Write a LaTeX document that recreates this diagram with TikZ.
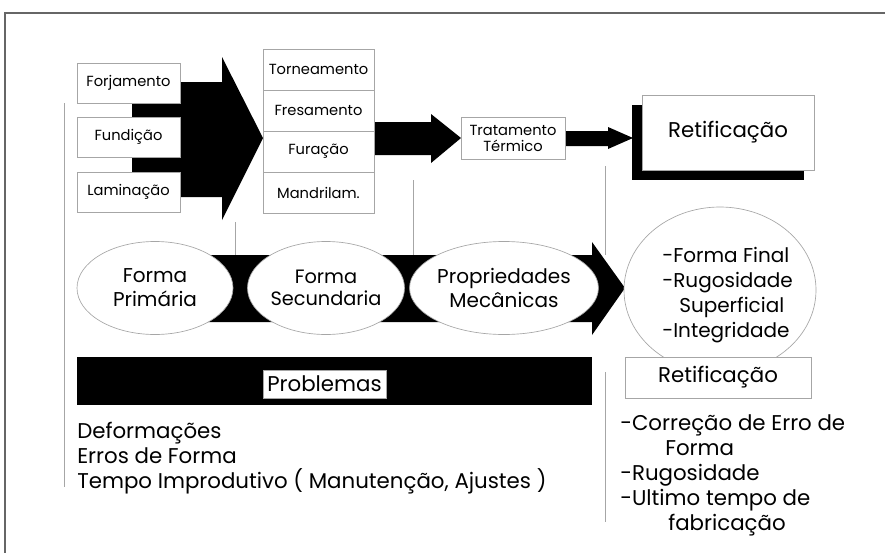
\documentclass[tikz,border=0pt]{standalone}
\usepackage{fontspec}
\setmainfont{Poppins}
\usetikzlibrary{positioning,shapes.geometric,shadows}

\tikzset{
  caixa/.style={draw=gray!70, fill=white, line width=0.5pt, inner sep=0pt, outer sep=0pt,
    minimum width=77.25pt, minimum height=30pt, font=\fontsize{11}{12}\selectfont},
  celula/.style={caixa, minimum width=83.25pt, minimum height=30.75pt},
  oval/.style={ellipse, draw=gray!70, fill=white, line width=0.5pt, inner sep=0pt,
    minimum width=117pt, minimum height=69.75pt, align=center, font=\fontsize{15}{18}\selectfont},
  fina/.style={gray!70, line width=0.6pt},
  lista/.style={align=left, anchor=north west, inner sep=0pt, font=\fontsize{16}{18.75}\selectfont}
}

\begin{document}
\begin{tikzpicture}[x=0.75pt, y=-0.75pt]
\useasboundingbox (0,0) rectangle (885,553);
% moldura
\draw[gray!80!black, line width=0.8pt] (885,13) -- (5,13) -- (5,553);

% linhas finas
\draw[fina] (64,103) -- (64,487);
\draw[fina] (235,222) -- (235,255);
\draw[fina] (413,180) -- (413,255);
\draw[fina] (605,166) -- (605,255);
\draw[fina] (605,372) -- (605,522);

% setas pretas
\fill (132,82) -- (222,82) -- (222,57) -- (263,138) -- (222,220) -- (222,197) -- (132,197) -- cycle;
\fill (374,122) -- (431,122) -- (431,114) -- (461,138) -- (431,163) -- (431,155) -- (374,155) -- cycle;
\fill (565,131) -- (608,131) -- (608,127) -- (633,138) -- (608,149) -- (608,146) -- (565,146) -- cycle;
\fill (155,255) -- (592,255) -- (592,242) -- (625,288) -- (592,335) -- (592,322) -- (155,322) -- cycle;

% forma primaria
\node[caixa] (forj) at (128.5,83) {Forjamento};
\node[caixa, below=10.5pt of forj] (fund) {Fundição};
\node[caixa, below=11.25pt of fund] (lami) {Laminação};

% usinagem
\node[celula] (torn) at (318.5,69.5) {Torneamento};
\node[celula, below=0pt of torn] (fres) {Fresamento};
\node[celula, below=0pt of fres] (fura) {\raisebox{-2pt}{Furação}};
\node[celula, below=0pt of fura] (mand) {Mandrilam.};

\node[caixa, minimum width=78pt, minimum height=31.5pt, align=center] (trat) at (513,138) {Tratamento\\Térmico};

\node[caixa, minimum width=129pt, minimum height=56.25pt, font=\fontsize{16}{18}\selectfont,
  drop shadow={shadow xshift=-7.5pt, shadow yshift=-7.5pt, fill=black, opacity=1}] (reti) at (728,132.5) {Retificação};

% fluxo
\node[oval] (prim) at (155,288) {Forma\\Primária};
\node[oval, font=\fontsize{14.5}{16.5}\selectfont] (secu) at (326,288) {Forma\\Secundaria};
\node[oval] (prop) at (504,288) {Propriedades\\Mecânicas};

\node[ellipse, draw=gray!70, fill=white, line width=0.5pt, minimum width=144pt, minimum height=124.5pt] (final) at (720,290) {};
\node[lista, font=\fontsize{15}{18.75}\selectfont] (quali) at (662,247) {-Forma Final\\-Rugosidade\\\hspace*{12.75pt}Superficial\\-Integridade};
\node[caixa, minimum width=139.5pt, minimum height=30.75pt, font=\fontsize{16}{18}\selectfont] (reti2) at (718,377.5) {Retificação};

% problemas
\fill (77,357) rectangle (592,405);
\node[caixa, minimum width=92pt, minimum height=21pt, font=\fontsize{16}{18}\selectfont] (prob) at (324.5,384) {Problemas};
\node[lista] (probl) at (77,422) {Deformações\\Erros de Forma\\Tempo Improdutivo ( Manutenção, Ajustes )};
\node[lista] (ganho) at (620,414) {-Correção de Erro de\\\hspace*{33.75pt}Forma\\-Rugosidade\\-Ultimo tempo de\\\hspace*{36pt}fabricação};
\end{tikzpicture}
\end{document}
